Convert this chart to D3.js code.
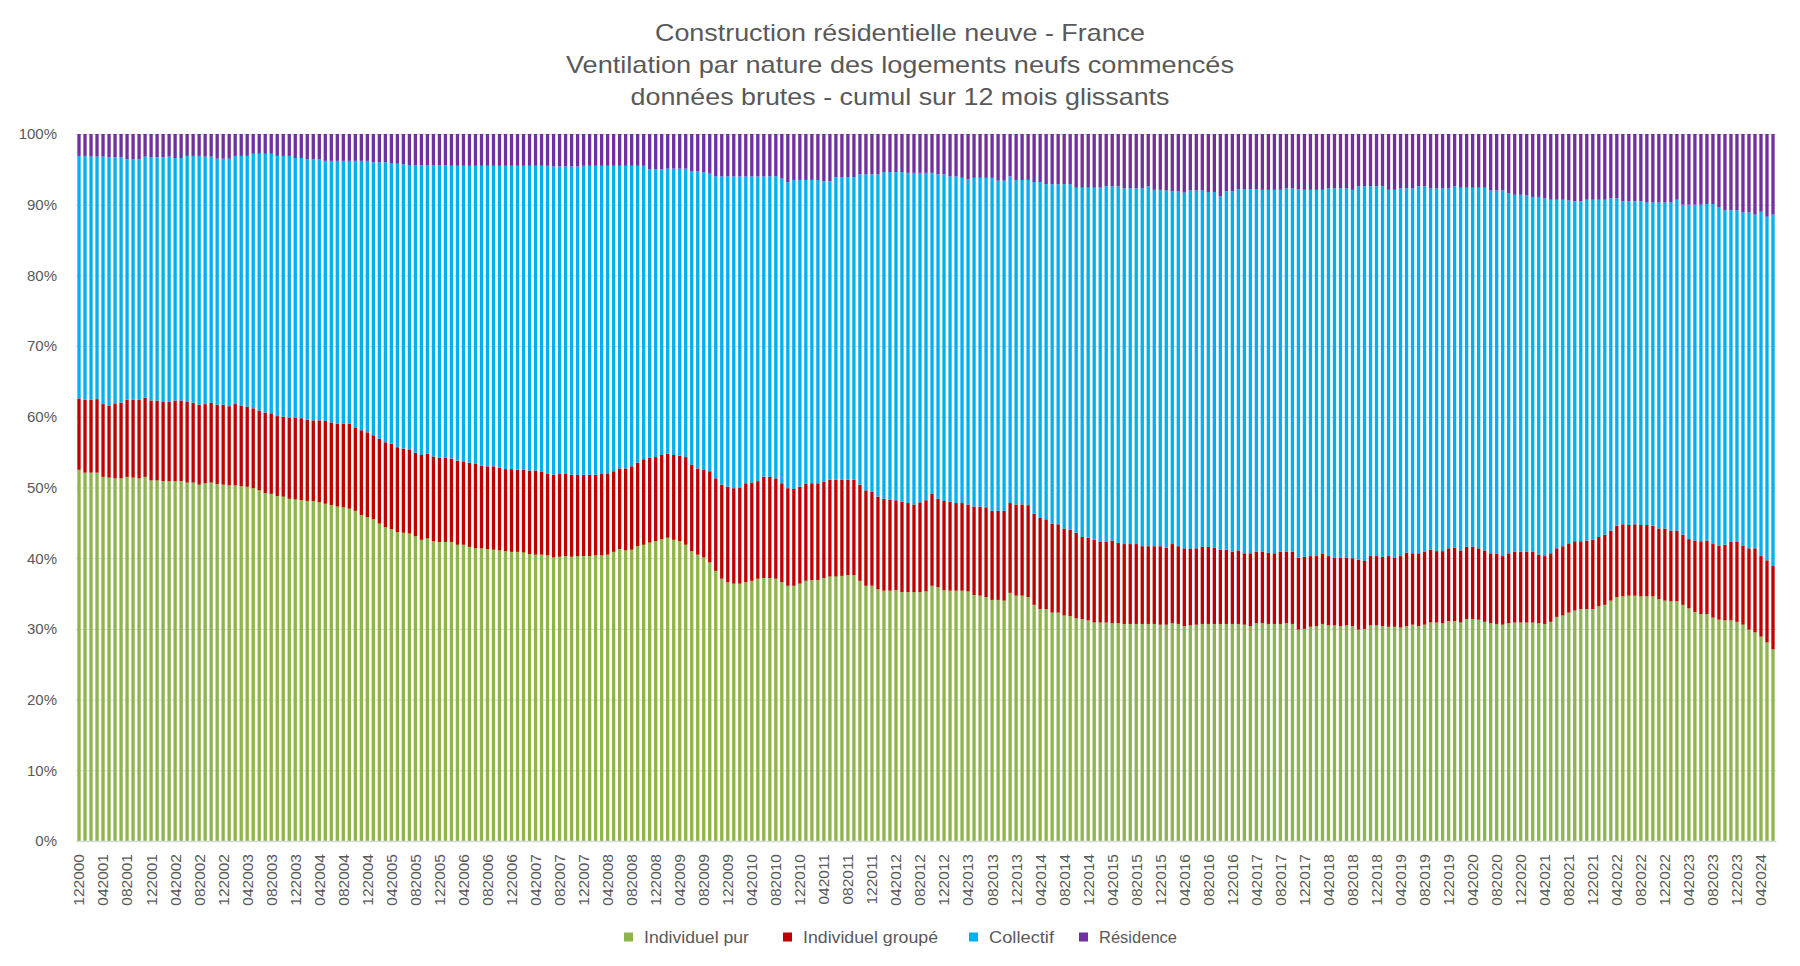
<!DOCTYPE html>
<html lang="fr">
<head>
<meta charset="utf-8">
<script src="https://cdn.jsdelivr.net/npm/d3@7/dist/d3.min.js"></script>
<style>
  html, body { margin: 0; padding: 0; background: #ffffff; }
  svg { display: block; font-family: "Liberation Sans", Arial, sans-serif; }
</style>
</head>
<body>
<svg id="chart" width="1800" height="966"></svg>
<script>
// ---------------- DATA ----------------
const titleLines = [
  "Construction résidentielle neuve - France",
  "Ventilation par nature des logements neufs commencés",
  "données brutes - cumul sur 12 mois glissants"
];
const seriesNames = ["Individuel pur", "Individuel groupé", "Collectif", "Résidence"];
const seriesColors = ["#8DB54B", "#C00000", "#00B0F0", "#7030A0"];

// monthly categories, 12/2000 ... 06/2024
const categories = d3.timeMonth.range(new Date(2000, 11, 1), new Date(2024, 6, 1))
  .map(d => d3.timeFormat("%m%Y")(d));

const tickLabels = [
  "122000","042001","082001","122001","042002","082002","122002","042003","082003","122003",
  "042004","082004","122004","042005","082005","122005","042006","082006","122006","042007",
  "082007","122007","042008","082008","122008","042009","082009","122009","042010","082010",
  "122010","042011","082011","122011","042012","082012","122012","042013","082013","122013",
  "042014","082014","122014","042015","082015","122015","042016","082016","122016","042017",
  "082017","122017","042018","082018","122018","042019","082019","122019","042020","082020",
  "122020","042021","082021","122021","042022","082022","122022","042023","082023","122023",
  "042024"
];
const yTickValues = [0, 0.1, 0.2, 0.3, 0.4, 0.5, 0.6, 0.7, 0.8, 0.9, 1.0];

// shares in % of housing starts
const individuelPur = [
52.5,52.1,52.1,52.1,51.5,51.4,51.3,51.3,51.5,51.4,
51.3,51.5,51.0,51.0,50.9,50.9,50.9,50.9,50.7,50.7,
50.4,50.6,50.7,50.5,50.4,50.3,50.3,50.2,50.1,49.9,
49.6,49.2,49.1,48.8,48.7,48.4,48.3,48.2,48.1,48.1,
47.9,47.7,47.5,47.3,47.2,47.0,46.7,46.1,45.8,45.5,
44.9,44.4,44.1,43.7,43.6,43.5,43.1,42.6,42.8,42.4,
42.3,42.3,42.3,41.9,41.9,41.6,41.4,41.4,41.3,41.2,
41.1,41.0,40.9,40.9,40.8,40.6,40.5,40.5,40.4,40.1,
40.2,40.3,40.2,40.3,40.3,40.3,40.4,40.4,40.5,40.9,
41.3,41.1,41.2,41.7,41.9,42.2,42.4,42.7,42.9,42.6,
42.4,41.9,41.0,40.5,40.1,39.4,38.2,37.1,36.6,36.4,
36.4,36.6,36.8,37.1,37.2,37.2,37.1,36.6,36.1,36.1,
36.4,36.8,36.9,36.9,37.2,37.4,37.4,37.5,37.6,37.6,
36.8,36.1,36.1,35.6,35.4,35.4,35.5,35.2,35.2,35.2,
35.2,35.3,36.1,35.9,35.5,35.4,35.4,35.4,35.3,34.8,
34.7,34.5,34.1,34.1,34.0,35.1,34.7,34.7,34.5,33.4,
32.8,32.8,32.3,32.3,31.9,31.8,31.5,31.4,31.2,30.9,
30.9,30.9,30.8,30.8,30.7,30.7,30.7,30.7,30.7,30.7,
30.6,30.6,30.8,30.7,30.4,30.5,30.6,30.7,30.7,30.7,
30.7,30.7,30.7,30.7,30.6,30.4,30.8,30.8,30.7,30.7,
30.7,30.8,30.7,29.9,30.0,30.3,30.4,30.7,30.5,30.5,
30.4,30.5,30.4,29.9,30.0,30.5,30.5,30.4,30.3,30.3,
30.2,30.4,30.6,30.4,30.6,30.9,30.9,30.8,31.1,31.1,
30.9,31.4,31.4,31.3,31.0,30.8,30.7,30.6,30.8,30.9,
30.9,30.9,30.9,30.8,30.7,31.0,31.7,31.9,32.3,32.6,
32.8,32.8,32.8,33.2,33.4,34.0,34.5,34.6,34.7,34.7,
34.6,34.6,34.6,34.2,34.0,33.9,33.9,33.4,32.9,32.4,
32.1,32.1,31.6,31.3,31.2,31.2,31.0,30.6,29.9,29.5,
28.9,28.1,27.1
];
const individuelGroupe = [
10.1,10.3,10.3,10.4,10.3,10.2,10.6,10.7,10.9,11.0,
11.1,11.2,11.3,11.3,11.2,11.2,11.4,11.4,11.4,11.3,
11.3,11.2,11.3,11.2,11.3,11.2,11.5,11.4,11.3,11.3,
11.3,11.4,11.4,11.3,11.3,11.5,11.6,11.6,11.5,11.4,
11.6,11.7,11.7,11.7,11.8,12.0,11.8,12.0,12.0,11.9,
12.0,12.0,12.1,12.0,11.9,11.9,11.8,12.0,12.0,12.0,
11.9,11.9,11.8,11.9,11.8,11.9,12.0,11.7,11.7,11.8,
11.7,11.6,11.7,11.6,11.7,11.8,11.9,11.7,11.6,11.7,
11.7,11.7,11.6,11.5,11.5,11.5,11.4,11.5,11.5,11.4,
11.4,11.6,11.8,11.8,12.1,12.0,11.9,11.9,11.9,12.0,
12.1,12.4,12.2,12.2,12.4,12.9,13.1,13.3,13.5,13.5,
13.6,14.0,13.9,13.8,14.3,14.3,14.2,14.0,13.8,13.7,
13.7,13.7,13.7,13.7,13.6,13.7,13.7,13.6,13.5,13.5,
13.6,13.5,13.3,13.1,13.0,12.9,12.7,12.8,12.6,12.4,
12.7,12.9,13.0,12.5,12.6,12.6,12.4,12.4,12.3,12.5,
12.6,12.7,12.6,12.6,12.7,12.7,12.9,12.9,13.0,12.9,
12.9,12.7,12.6,12.5,12.3,12.2,12.1,11.6,11.7,11.7,
11.4,11.4,11.7,11.4,11.3,11.3,11.3,11.0,11.0,11.0,
11.1,10.9,11.2,11.0,11.0,10.8,10.8,10.9,10.9,10.8,
10.5,10.5,10.2,10.4,10.1,10.3,10.1,10.1,10.1,10.0,
10.2,10.1,10.2,10.2,10.2,10.0,9.9,9.9,9.8,9.6,
9.7,9.6,9.6,9.9,9.6,9.8,9.8,9.8,10.0,9.8,
10.1,10.4,10.1,10.3,10.3,10.3,10.1,10.2,10.3,10.4,
10.2,10.2,10.2,10.1,10.1,9.9,9.9,9.7,9.9,10.0,
10.0,10.0,10.0,9.7,9.6,9.7,9.7,9.8,9.8,9.8,
9.6,9.7,9.8,9.8,9.9,9.9,10.1,10.2,10.0,10.1,
10.1,10.1,10.0,10.0,10.2,10.0,10.0,9.9,9.8,10.1,
10.3,10.4,10.4,10.5,10.7,11.1,11.3,11.2,11.5,11.9,
11.4,11.6,11.8
];
const collectif = [
34.3,34.5,34.4,34.3,35.0,35.1,34.8,34.7,34.0,34.0,
34.0,34.1,34.4,34.4,34.6,34.7,34.3,34.3,34.8,34.9,
35.2,35.0,34.8,34.8,34.8,35.0,35.1,35.3,35.5,36.0,
36.3,36.6,36.7,36.8,36.9,37.0,36.7,36.8,36.8,36.9,
36.9,36.8,37.0,37.2,37.2,37.2,37.7,38.1,38.4,38.6,
39.1,39.6,39.7,40.1,40.2,40.2,40.7,41.0,40.8,41.2,
41.4,41.4,41.4,41.7,41.8,42.0,42.1,42.4,42.5,42.5,
42.7,42.9,42.9,43.0,43.0,43.1,43.1,43.3,43.5,43.6,
43.5,43.4,43.6,43.6,43.7,43.7,43.7,43.6,43.5,43.2,
42.8,42.8,42.5,42.0,41.5,40.8,40.7,40.4,40.3,40.5,
40.6,40.8,41.5,42.0,42.1,42.1,42.7,43.6,43.9,44.1,
44.0,43.4,43.3,43.1,42.5,42.5,42.7,43.1,43.3,43.7,
43.4,43.0,42.9,42.9,42.5,42.2,42.8,42.8,42.8,42.8,
43.9,44.7,44.9,45.6,46.2,46.3,46.4,46.6,46.7,46.9,
46.6,46.3,45.4,45.9,46.2,46.0,46.2,46.0,46.0,46.5,
46.5,46.6,47.1,46.7,46.7,46.2,45.9,45.9,46.0,46.9,
47.5,47.4,48.0,48.1,48.7,48.9,48.8,49.4,49.5,49.8,
50.2,50.3,50.1,50.4,50.3,50.3,50.3,50.6,50.9,50.4,
50.4,50.5,49.9,50.2,50.3,50.7,50.6,50.4,50.2,50.3,
50.0,50.7,51.0,51.1,51.5,51.5,51.3,51.2,51.3,51.4,
51.2,51.4,51.4,52.1,51.9,51.8,51.8,51.5,52.0,52.2,
52.2,52.2,52.1,52.8,53.0,52.3,52.3,52.4,51.8,52.0,
52.0,51.5,51.6,51.9,51.7,51.1,51.3,51.3,50.9,51.1,
51.3,50.8,50.8,51.0,51.3,51.3,51.4,51.7,50.9,50.5,
50.5,50.4,50.2,50.6,50.6,50.0,49.3,49.0,48.5,48.1,
48.1,48.2,48.1,47.7,47.4,47.0,46.3,45.7,45.8,45.7,
45.8,45.6,45.7,46.1,46.1,46.4,46.8,46.7,47.3,47.5,
47.6,47.6,48.1,47.8,47.3,46.9,46.9,47.1,47.5,47.2,
48.7,48.6,49.7
];
const residence = [
3.1,3.1,3.2,3.2,3.2,3.3,3.3,3.3,3.6,3.6,
3.6,3.2,3.3,3.3,3.3,3.2,3.4,3.4,3.1,3.1,
3.1,3.2,3.2,3.5,3.5,3.5,3.1,3.1,3.1,2.8,
2.8,2.8,2.8,3.1,3.1,3.1,3.4,3.4,3.6,3.6,
3.6,3.8,3.8,3.8,3.8,3.8,3.8,3.8,3.8,4.0,
4.0,4.0,4.1,4.2,4.3,4.4,4.4,4.4,4.4,4.4,
4.4,4.4,4.5,4.5,4.5,4.5,4.5,4.5,4.5,4.5,
4.5,4.5,4.5,4.5,4.5,4.5,4.5,4.5,4.5,4.6,
4.6,4.6,4.6,4.6,4.5,4.5,4.5,4.5,4.5,4.5,
4.5,4.5,4.5,4.5,4.5,5.0,5.0,5.0,4.9,4.9,
4.9,4.9,5.3,5.3,5.4,5.6,6.0,6.0,6.0,6.0,
6.0,6.0,6.0,6.0,6.0,6.0,6.0,6.3,6.8,6.5,
6.5,6.5,6.5,6.5,6.7,6.7,6.1,6.1,6.1,6.1,
5.7,5.7,5.7,5.7,5.4,5.4,5.4,5.4,5.5,5.5,
5.5,5.5,5.5,5.7,5.7,6.0,6.0,6.2,6.4,6.2,
6.2,6.2,6.2,6.6,6.6,6.0,6.5,6.5,6.5,6.8,
6.8,7.1,7.1,7.1,7.1,7.1,7.6,7.6,7.6,7.6,
7.5,7.4,7.4,7.4,7.7,7.7,7.7,7.7,7.4,7.9,
7.9,8.0,8.1,8.1,8.3,8.0,8.0,8.0,8.2,8.2,
8.8,8.1,8.1,7.8,7.8,7.8,7.8,7.9,7.9,7.9,
7.9,7.7,7.7,7.8,7.9,7.9,7.9,7.9,7.7,7.7,
7.7,7.7,7.9,7.4,7.4,7.4,7.4,7.4,7.9,7.9,
7.7,7.7,7.7,7.4,7.4,7.7,7.7,7.7,7.7,7.4,
7.6,7.6,7.6,7.6,7.6,8.0,8.0,8.0,8.4,8.6,
8.6,8.7,8.9,8.9,9.1,9.3,9.3,9.3,9.4,9.5,
9.5,9.3,9.3,9.3,9.3,9.1,9.1,9.5,9.5,9.5,
9.5,9.7,9.7,9.7,9.7,9.7,9.3,10.0,10.0,10.0,
10.0,9.9,9.9,10.4,10.8,10.8,10.8,11.1,11.1,11.4,
11.0,11.7,11.4
];

// ---------------- LAYOUT ----------------
const plot = { left: 76, right: 1776, top: 134, bottom: 841 };
const textColor = "#595959";
const gridColor = "#d9d9d9";

const svg = d3.select("#chart");

const keys = ["pur", "groupe", "collectif", "residence"];
const rows = categories.map((c, i) => ({
  cat: c,
  pur: individuelPur[i],
  groupe: individuelGroupe[i],
  collectif: collectif[i],
  residence: residence[i]
}));

const stacked = d3.stack().keys(keys).offset(d3.stackOffsetExpand)(rows);

const x = d3.scaleBand()
  .domain(categories)
  .range([plot.left, plot.right])
  .paddingInner(0.45)
  .paddingOuter(0.225);

const y = d3.scaleLinear().domain([0, 1]).range([plot.bottom, plot.top]);

// gridlines
svg.append("g")
  .attr("transform", `translate(${plot.left},0)`)
  .call(d3.axisLeft(y).tickValues(yTickValues).tickSize(-(plot.right - plot.left)).tickFormat(""))
  .call(g => g.select(".domain").remove())
  .call(g => g.selectAll(".tick line").attr("stroke", gridColor).attr("stroke-width", 1));

// bars
svg.append("g")
  .selectAll("g")
  .data(stacked)
  .join("g")
  .attr("fill", (d, i) => seriesColors[i])
  .selectAll("rect")
  .data(d => d)
  .join("rect")
  .attr("x", d => x(d.data.cat))
  .attr("width", x.bandwidth())
  .attr("y", d => y(d[1]))
  .attr("height", d => y(d[0]) - y(d[1]));

// y axis labels
svg.append("g")
  .attr("transform", `translate(${plot.left},0)`)
  .call(d3.axisLeft(y).tickValues(yTickValues).tickSize(0).tickPadding(19).tickFormat(d3.format(".0%")))
  .call(g => g.select(".domain").remove())
  .call(g => g.selectAll("text")
    .attr("fill", textColor)
    .style("font-size", "15px")
    .style("font-family", "'Liberation Sans', Arial, sans-serif"));

// x axis
const tickCats = categories.filter(c => tickLabels.includes(c));
const xAxis = svg.append("g")
  .attr("transform", `translate(0,${plot.bottom})`)
  .call(d3.axisBottom(x).tickValues(tickCats).tickSize(0).tickFormat(d => d));
xAxis.select(".domain").attr("stroke", gridColor).attr("stroke-width", 1.5);
xAxis.selectAll("text")
  .attr("fill", textColor)
  .style("font-size", "15.5px")
  .style("font-family", "'Liberation Sans', Arial, sans-serif")
  .attr("text-anchor", "end")
  .attr("transform", "rotate(-90)")
  .attr("x", -13)
  .attr("y", 0)
  .attr("dy", "0.35em");

// title
const titleTargets = [490, 668, 539];
const titleCenters = [33, 65, 97];
svg.append("g")
  .selectAll("text")
  .data(titleLines)
  .join("text")
  .attr("x", 900)
  .attr("y", (d, i) => titleCenters[i])
  .attr("dy", "0.35em")
  .attr("text-anchor", "middle")
  .attr("fill", textColor)
  .style("font-size", "24px")
  .attr("textLength", (d, i) => titleTargets[i])
  .attr("lengthAdjust", "spacingAndGlyphs")
  .text(d => d);

// legend
const legendStarts = [624, 783, 969, 1079];
const legendTextW = [105, 135, 65, 78];
const legend = svg.append("g")
  .selectAll("g")
  .data(seriesNames)
  .join("g")
  .attr("transform", (d, i) => `translate(${legendStarts[i]},937)`);
legend.append("rect")
  .attr("x", 0).attr("y", -4.5).attr("width", 9).attr("height", 9)
  .attr("fill", (d, i) => seriesColors[i]);
legend.append("text")
  .attr("x", 20)
  .attr("y", 0)
  .attr("dy", "0.35em")
  .attr("fill", textColor)
  .style("font-size", "16px")
  .attr("textLength", (d, i) => legendTextW[i])
  .attr("lengthAdjust", "spacingAndGlyphs")
  .text(d => d);
</script>
</body>
</html>
